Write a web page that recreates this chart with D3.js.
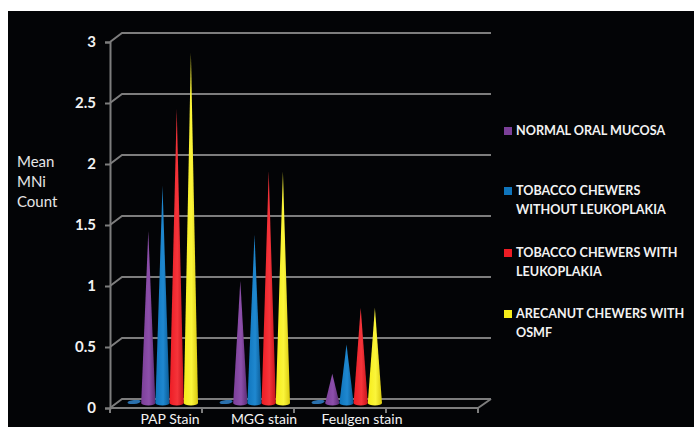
<!DOCTYPE html>
<html>
<head>
<meta charset="utf-8">
<script src="https://cdn.jsdelivr.net/npm/d3@7"></script>
<style>
    html, body { margin: 0; padding: 0; background: #fff; overflow: hidden; }
    text { font-family: Lato, "Open Sans", sans-serif; }
</style>
</head>
<body>
<div id="chart"></div>
<script>
const categories = ["PAP Stain", "MGG stain", "Feulgen stain", ""];
const yTicks = [0, 0.5, 1, 1.5, 2, 2.5, 3];

// first series is the flat empty one drawn on the floor
const emptySeries = [0, 0, 0];
const normalMucosa = [1.41, 1.0, 0.24];
const tobaccoWithout = [1.78, 1.38, 0.48];
const tobaccoWith = [2.41, 1.9, 0.78];
const arecanut = [2.87, 1.9, 0.78];

const seriesNames = ["EMPTY", "NORMAL", "WITHOUT", "WITH", "ARECANUT"];
const seriesValues = [emptySeries, normalMucosa, tobaccoWithout, tobaccoWith, arecanut];
const seriesColors = ["#2a70ad", "#7b3f98", "#0f75bc", "#ed1c24", "#f5ec1a"];
const seriesDark = ["#174f80", "#5a2c72", "#0a5a94", "#c4141b", "#d8c80f"];
const seriesLight = ["#1c6fb0", "#8d4fab", "#1f88d0", "#f5343a", "#fbf53a"];

const legendLines = [
    ["NORMAL ORAL MUCOSA"],
    ["TOBACCO CHEWERS", "WITHOUT LEUKOPLAKIA"],
    ["TOBACCO CHEWERS WITH", "LEUKOPLAKIA"],
    ["ARECANUT CHEWERS WITH", "OSMF"]
];

const width = 694, height = 427;
const depthX = 12, depthY = -9;
const gridColor = "#7d7d7d";

const svg = d3.select("#chart").append("svg")
    .attr("width", width)
    .attr("height", height)
    .style("display", "block");

// black panel
svg.append("rect")
    .attr("x", 8).attr("y", 11)
    .attr("width", width - 8).attr("height", height - 11)
    .attr("fill", "#030406");

const x = d3.scaleBand().domain(categories).range([110, 478]);
const y = d3.scaleLinear().domain([0, 3]).range([408, 42]);

const x1 = d3.scaleBand()
    .domain(seriesNames)
    .range([0, 71]);

// gradients for the cones
const defs = svg.append("defs");
seriesNames.forEach((name, i) => {
    const g = defs.append("linearGradient").attr("id", "cone" + i);
    g.append("stop").attr("offset", "0%").attr("stop-color", seriesColors[i]);
    g.append("stop").attr("offset", "55%").attr("stop-color", seriesLight[i]);
    g.append("stop").attr("offset", "100%").attr("stop-color", seriesDark[i]);
});

// gridlines and the slanted bits at the wall
const grid = svg.append("g").attr("fill", "none").attr("stroke", gridColor).attr("stroke-width", 2);
yTicks.forEach(t => {
    grid.append("path")
        .attr("d", `M110,${y(t)}L${110 + depthX},${y(t) + depthY}L491,${y(t) + depthY}`);
});
grid.append("path").attr("d", `M478,${y(0)}L491,${y(0) + depthY}`);

// y axis
const yAxis = svg.append("g")
    .attr("transform", "translate(110,0)")
    .call(d3.axisLeft(y).tickValues(yTicks).tickFormat(d3.format("~g")).tickSize(5).tickPadding(9));
yAxis.selectAll("path,line").attr("stroke", gridColor).attr("stroke-width", 2);
yAxis.selectAll("text")
    .attr("fill", "#f2f2f2")
    .style("font-size", "15px")
    .style("font-weight", "700")
    .style("font-family", "Lato, sans-serif");

// x axis
const xAxis = svg.append("g")
    .attr("transform", `translate(0,${y(0)})`)
    .call(d3.axisBottom(x).tickSize(0).tickFormat(""));
xAxis.select("path").remove();
xAxis.selectAll("line").remove();
const xTicks = [...categories.map(c => x(c)), x.range()[1]];
xAxis.selectAll("line.tick-mark")
    .data(xTicks)
    .join("line")
    .attr("class", "tick-mark")
    .attr("x1", d => d).attr("x2", d => d)
    .attr("y1", 0).attr("y2", 5)
    .attr("stroke", gridColor).attr("stroke-width", 2);
xAxis.append("line")
    .attr("x1", 110).attr("x2", 478)
    .attr("stroke", gridColor).attr("stroke-width", 2);

// labels are not evenly spaced in the original
const labelShift = [14, 16, 22];
svg.selectAll(".cat-label")
    .data(categories.slice(0, 3))
    .join("text")
    .attr("class", "cat-label")
    .attr("x", (d, i) => x(d) + x.bandwidth() / 2 + labelShift[i])
    .attr("y", 424)
    .attr("text-anchor", "middle")
    .attr("fill", "#f2f2f2")
    .style("font-size", "14px")
    .text(d => d);

// cones
const baseY = y(0) - 5;
const baseOffset = y(0) - baseY;
const coneR = x1.bandwidth() / 2;
const bars = svg.append("g");
seriesNames.forEach((name, s) => {
    categories.slice(0, 3).forEach((cat, c) => {
        const cx = x(cat) + 17 + x1(name) + coneR;
        const v = seriesValues[s][c];
        if (v === 0) {
            bars.append("ellipse")
                .attr("cx", cx).attr("cy", baseY - 1)
                .attr("rx", coneR - 0.5).attr("ry", 2)
                .attr("transform", `rotate(-6,${cx},${baseY - 1})`)
                .attr("fill", seriesColors[s]);
            return;
        }
        const tip = y(v) - baseOffset;
        bars.append("path")
            .attr("d", `M${cx - coneR},${baseY}L${cx},${tip}L${cx + coneR},${baseY}A${coneR},2.5 0 0 1 ${cx - coneR},${baseY}Z`)
            .attr("fill", `url(#cone${s})`);
    });
});

// y title
svg.append("g").selectAll("text")
    .data(["Mean", "MNi", "Count"])
    .join("text")
    .attr("x", 17)
    .attr("y", (d, i) => 167 + i * 20)
    .attr("fill", "#e6e6e6")
    .style("font-size", "15px")
    .text(d => d);

// legend
const legendTop = [131, 191, 253, 314];
const legend = svg.append("g").selectAll("g")
    .data(legendLines)
    .join("g")
    .attr("transform", (d, i) => `translate(504,${legendTop[i]})`);
legend.append("rect")
    .attr("x", 0).attr("y", -4)
    .attr("width", 8).attr("height", 8)
    .attr("fill", (d, i) => seriesColors[i + 1]);
legend.each(function (lines) {
    d3.select(this).selectAll("text")
        .data(lines)
        .join("text")
        .attr("x", 12)
        .attr("y", (d, i) => 4 + i * 19)
        .attr("fill", "#f2f2f2")
        .style("font-size", "12.6px")
        .style("font-weight", "700")
        .text(d => d);
});
</script>
</body>
</html>
